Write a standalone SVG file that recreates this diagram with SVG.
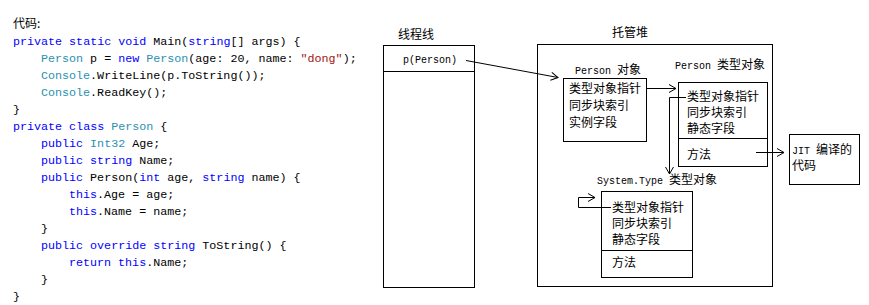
<svg xmlns="http://www.w3.org/2000/svg" width="869" height="305" viewBox="0 0 869 305">
<style>
.code{font-family:"Liberation Mono","Noto Sans CJK SC",monospace;font-size:11.7px;fill:#000;white-space:pre}
.k{fill:#0000ff}
.t{fill:#2b91af}
.s{fill:#a31515}
.cjk{font-family:"Noto Sans CJK SC",sans-serif;font-size:12px;fill:#000}
.mono{font-family:"Liberation Mono",monospace;font-size:10px;fill:#000;white-space:pre}
.box{fill:#fff;stroke:#000;stroke-width:1}
.ln{fill:none;stroke:#000;stroke-width:1}
</style>
<defs>
<marker id="arr" markerUnits="userSpaceOnUse" markerWidth="12" markerHeight="12" refX="8" refY="5" orient="auto">
<path d="M1,1 L8,5 L1,9" fill="none" stroke="#000" stroke-width="1"/>
</marker>
</defs>
<rect width="869" height="305" fill="#fff"/>

<g id="code">
<text class="cjk" x="13" y="28" font-size="13">代码:</text>
<text class="code" x="13" y="45"><tspan class="k">private static void</tspan> Main(<tspan class="k">string</tspan>[] args) {</text>
<text class="code" x="41" y="62"><tspan class="t">Person</tspan> p = <tspan class="k">new</tspan> <tspan class="t">Person</tspan>(age: 20, name: <tspan class="s">"dong"</tspan>);</text>
<text class="code" x="41" y="79"><tspan class="t">Console</tspan>.WriteLine(p.ToString());</text>
<text class="code" x="41" y="96"><tspan class="t">Console</tspan>.ReadKey();</text>
<text class="code" x="13" y="113">}</text>
<text class="code" x="13" y="130"><tspan class="k">private class</tspan> <tspan class="t">Person</tspan> {</text>
<text class="code" x="41" y="147"><tspan class="k">public</tspan> <tspan class="t">Int32</tspan> Age;</text>
<text class="code" x="41" y="164"><tspan class="k">public string</tspan> Name;</text>
<text class="code" x="41" y="181"><tspan class="k">public</tspan> Person(<tspan class="k">int</tspan> age, <tspan class="k">string</tspan> name) {</text>
<text class="code" x="69" y="198"><tspan class="k">this</tspan>.Age = age;</text>
<text class="code" x="69" y="215"><tspan class="k">this</tspan>.Name = name;</text>
<text class="code" x="41" y="232">}</text>
<text class="code" x="41" y="249"><tspan class="k">public override string</tspan> ToString() {</text>
<text class="code" x="69" y="266"><tspan class="k">return this</tspan>.Name;</text>
<text class="code" x="41" y="283">}</text>
<text class="code" x="13" y="300">}</text>
</g>

<g id="thread-stack">
<text class="cjk" x="398" y="39">线程线</text>
<rect class="box" x="383.5" y="45.5" width="91" height="242"/>
<line class="ln" x1="383.5" y1="71.5" x2="474.5" y2="71.5"/>
<text class="mono" x="403" y="63">p(Person)</text>
</g>

<g id="managed-heap">
<text class="cjk" x="612" y="37">托管堆</text>
<rect class="box" x="537.5" y="44.5" width="235" height="242"/>
</g>

<g id="person-object">
<text x="575" y="74"><tspan class="mono">Person </tspan><tspan class="cjk">对象</tspan></text>
<rect class="box" x="563.5" y="78.5" width="83" height="63"/>
<text class="cjk" x="569" y="93">类型对象指针</text>
<text class="cjk" x="569" y="110">同步块索引</text>
<text class="cjk" x="569" y="127">实例字段</text>
</g>

<g id="person-type-object">
<text x="675" y="69"><tspan class="mono">Person </tspan><tspan class="cjk">类型对象</tspan></text>
<rect class="box" x="678.5" y="82.5" width="89" height="84"/>
<line class="ln" x1="678.5" y1="138.5" x2="767.5" y2="138.5"/>
<text class="cjk" x="687" y="101">类型对象指针</text>
<text class="cjk" x="687" y="117">同步块索引</text>
<text class="cjk" x="687" y="133">静态字段</text>
<text class="cjk" x="687" y="159">方法</text>
</g>

<g id="jit-code">
<rect class="box" x="789.5" y="134.5" width="70" height="50"/>
<text x="792" y="154"><tspan class="mono">JIT </tspan><tspan class="cjk">编译的</tspan></text>
<text class="cjk" x="792" y="170">代码</text>
</g>

<g id="system-type-object">
<text x="597" y="184"><tspan class="mono">System.Type </tspan><tspan class="cjk">类型对象</tspan></text>
<rect class="box" x="601.5" y="191.5" width="91" height="86"/>
<line class="ln" x1="601.5" y1="250.5" x2="692.5" y2="250.5"/>
<text class="cjk" x="612" y="212">类型对象指针</text>
<text class="cjk" x="612" y="228">同步块索引</text>
<text class="cjk" x="612" y="244">静态字段</text>
<text class="cjk" x="612" y="267">方法</text>
</g>

<g id="connectors">
<line class="ln" x1="466" y1="60.5" x2="558" y2="77.5" marker-end="url(#arr)"/>
<line class="ln" x1="646" y1="88.5" x2="676" y2="88.5" marker-end="url(#arr)"/>
<polyline class="ln" points="686,97.5 669.5,97.5 669.5,174" marker-end="url(#arr)"/>
<line class="ln" x1="756" y1="152.5" x2="784" y2="152.5" marker-end="url(#arr)"/>
<polyline class="ln" points="611,207.5 578.5,207.5 578.5,197.5 595,197.5" marker-end="url(#arr)"/>
</g>
</svg>
